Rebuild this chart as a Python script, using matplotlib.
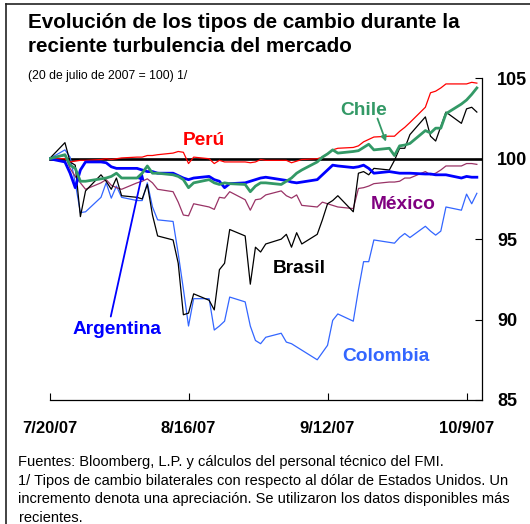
import datetime as dt

import matplotlib
matplotlib.use("Agg")
import matplotlib.pyplot as plt
import matplotlib.dates as mdates
from matplotlib.lines import Line2D
import pandas as pd

plt.rcParams["font.family"] = ["Liberation Sans", "DejaVu Sans"]

# business days, index 20 July 2007 = 100
dates = pd.bdate_range("2007-07-20", "2007-10-11")

peru = [
    100.0,
    100.0, 99.8, 99.85, 99.9, 99.9,
    99.95, 100.0, 99.95, 100.0, 100.05,
    100.1, 100.1, 100.2, 100.2, 100.25,
    100.35, 100.45, 100.4, 99.7, 100.1,
    100.0, 99.7, 99.9, 99.8, 99.8,
    99.8, 99.75, 99.8, 99.95, 99.9,
    99.9, 99.9, 99.75, 99.85, 99.95,
    100.0, 100.1, 100.3, 100.55, 100.65,
    100.7, 100.8, 101.05, 101.2, 101.35,
    101.4, 101.4, 101.7, 101.95, 102.25,
    103.2, 104.1, 104.2, 104.4, 104.65,
    104.65, 104.65, 104.75, 104.7,
]
chile = [
    100.0,
    100.25, 99.6, 99.4, 98.6, 98.6,
    98.75, 98.8, 98.9, 99.1, 98.8,
    98.8, 99.1, 99.55, 99.1, 99.1,
    99.0, 98.9, 98.7, 98.2, 98.5,
    98.7, 98.5, 98.4, 98.5, 98.45,
    98.4, 97.95, 98.3, 98.5, 98.5,
    98.4, 98.6, 98.8, 99.1, 99.3,
    99.8, 100.1, 100.3, 100.55, 100.35,
    100.45, 100.5, 100.7, 100.9, 100.55,
    100.65, 100.2, 100.8, 100.85, 100.95,
    101.75, 101.6, 101.9, 101.9, 102.8,
    103.4, 103.65, 104.0, 104.4,
]
argentina = [
    100.0,
    99.8, 99.1, 98.2, 99.3, 99.8,
    99.8, 99.75, 99.5, 99.4, 99.4,
    99.4, 99.3, 99.2, 99.2, 99.1,
    99.1, 98.95, 98.8, 98.7, 98.8,
    98.9, 98.7, 98.6, 98.2, 98.45,
    98.5, 98.6, 98.7, 98.8, 98.85,
    98.7, 98.65, 98.55, 98.5, 98.55,
    98.7, 99.0, 99.3, 99.6, 99.55,
    99.45, 99.5, 99.6, 99.4, 99.1,
    99.2, 99.15, 99.1, 99.1, 99.1,
    99.05, 99.05, 99.0, 99.0, 99.0,
    98.8, 98.9, 98.85, 98.85,
]
brasil = [
    100.0,
    101.0, 99.8, 99.6, 96.4, 98.0,
    99.0, 98.6, 98.1, 98.8, 97.7,
    97.6, 97.5, 98.4, 96.5, 95.2,
    94.95, 93.5, 90.3, 90.4, 91.6,
    91.2, 90.6, 93.1, 93.5, 95.6,
    95.2, 92.2, 94.5, 94.2, 94.7,
    95.0, 95.3, 94.5, 95.4, 94.7,
    95.3, 96.2, 97.2, 97.4, 97.7,
    96.7, 99.1, 99.2, 99.0, 99.4,
    99.3, 99.9, 100.65, 100.65, 101.5,
    102.6, 101.4, 101.1, 102.0, 102.9,
    102.2, 103.1, 103.2, 102.9,
]
colombia = [
    100.0,
    100.55, 100.1, 98.5, 96.65, 96.7,
    97.6, 98.5, 97.55, 98.3, 97.6,
    97.4, 97.4, 98.5, 97.0, 96.2,
    96.1, 94.1, 91.9, 89.6, 91.3,
    91.3, 89.35, 89.6, 89.9, 91.4,
    91.1, 89.6, 88.7, 88.5, 88.9,
    89.15, 88.6, 88.5, 88.3, 88.1,
    87.5, 87.95, 88.4, 89.95, 90.35,
    89.9, 91.85, 93.6, 93.6, 94.95,
    94.8, 94.75, 95.1, 95.35, 95.1,
    95.8, 95.5, 95.25, 95.5, 97.0,
    96.8, 97.8, 97.2, 97.85,
]
mexico = [
    100.0,
    100.2, 99.4, 98.9, 98.5, 98.1,
    98.5, 98.7, 98.35, 98.2, 98.1,
    98.5, 98.6, 98.75, 98.5, 98.1,
    97.95, 97.3, 96.5, 96.45, 97.2,
    97.0, 96.85, 97.6, 97.55, 97.95,
    97.45, 96.8, 97.45, 97.5, 97.75,
    98.0, 97.7, 97.55, 97.75, 97.1,
    97.0, 97.3, 97.2, 97.1, 97.0,
    96.9, 98.15, 98.2, 98.3, 98.45,
    98.55, 98.55, 98.6, 98.8, 98.8,
    99.2, 99.0, 99.1, 99.3, 99.55,
    99.55, 99.7, 99.7, 99.65,
]

tick_dates = ["2007-07-20", "2007-08-16", "2007-09-12", "2007-10-09"]
tick_labels = ["7/20/07", "8/16/07", "9/12/07", "10/9/07"]
y_ticks = [85, 90, 95, 100, 105]

W, H = 530, 524
base = dt.datetime(2007, 7, 20)


def day(n):
    return mdates.date2num(base + dt.timedelta(days=n))


def fx(x):
    return x / W


def fy(y):
    return 1 - y / H


fig = plt.figure(figsize=(W / 100, H / 100), dpi=100)
ax = fig.add_axes([fx(49.5), fy(400), (482 - 49.5) / W, (400 - 78.3) / H])

ax.plot([day(0), day(84)], [100, 100], color="black", lw=1.9, zorder=1)

ax.plot(dates, colombia, color="#3366FF", lw=0.9, zorder=2)
ax.plot(dates, mexico, color="#993366", lw=0.9, zorder=2)
ax.plot(dates, brasil, color="black", lw=0.9, zorder=3)
ax.plot(dates, peru, color="#FF0000", lw=0.9, zorder=3)
ax.plot(dates, argentina, color="#0000FF", lw=2.0, zorder=4)
ax.plot(dates, chile, color="#339966", lw=2.0, zorder=5)

ax.set_xlim(day(0), day(84))
ax.set_ylim(85, 105)

for s in ["left", "top"]:
    ax.spines[s].set_visible(False)
for s in ["right", "bottom"]:
    ax.spines[s].set_linewidth(0.9)

ax.yaxis.tick_right()
ax.set_yticks(y_ticks)
ax.set_yticklabels([str(v) for v in y_ticks], fontweight="bold")
ax.tick_params(axis="y", direction="in", length=5, pad=11, labelsize=13)

ax.set_xticks(mdates.date2num(pd.to_datetime(tick_dates)))
ax.set_xticklabels(tick_labels, fontweight="bold")
ax.tick_params(axis="x", direction="in", length=5, pad=15, labelsize=12)

# series names
lbl = dict(ha="center", va="center", fontsize=13.8, fontweight="bold")
ax.text(day(29.9), 101.16, "Perú", color="#FF0000", **lbl)
ax.text(day(61.1), 103.02, "Chile", color="#339966", **lbl)
ax.text(day(68.7), 97.18, "México", color="#800080", **lbl)
ax.text(day(48.5), 93.2, "Brasil", color="black", **lbl)
ax.text(day(13.1), 89.36, "Argentina", color="#0000FF", **lbl)
ax.text(day(65.4), 87.68, "Colombia", color="#3366FF", **lbl)

ax.annotate("", xy=(day(18.06), 99.13), xytext=(day(11.9), 90.19),
            arrowprops=dict(arrowstyle="-|>", color="#0000FF", lw=1.3,
                            mutation_scale=8, shrinkA=0, shrinkB=0))
ax.annotate("", xy=(day(65.35), 101.06), xytext=(day(63.7), 102.5),
            arrowprops=dict(arrowstyle="-|>", color="#339966", lw=1.3,
                            mutation_scale=8, shrinkA=0, shrinkB=0))

# titles and notes
fig.text(fx(28), fy(23), "Evolución de los tipos de cambio durante la",
         fontsize=14.9, fontweight="bold", va="center")
fig.text(fx(28), fy(47), "reciente turbulencia del mercado",
         fontsize=14.9, fontweight="bold", va="center")
fig.text(fx(28), fy(76), "(20 de julio de 2007 = 100) 1/",
         fontsize=8.7, va="center")

notes = [
    "Fuentes: Bloomberg, L.P. y cálculos del personal técnico del FMI.",
    "1/ Tipos de cambio bilaterales con respecto al dólar de Estados Unidos. Un",
    "incremento denota una apreciación. Se utilizaron los datos disponibles más",
    "recientes.",
]
for i, line in enumerate(notes):
    fig.text(fx(18.5), fy(462 + 18.5 * i), line, fontsize=10.5, va="center")

# outer frame
fig.add_artist(Line2D([fx(6), fx(6)], [fy(4), 0], color="#222222", lw=1.2))
fig.add_artist(Line2D([fx(6), 1], [fy(4), fy(4)], color="#222222", lw=1.2))

fig.savefig("out.png", dpi=100)
